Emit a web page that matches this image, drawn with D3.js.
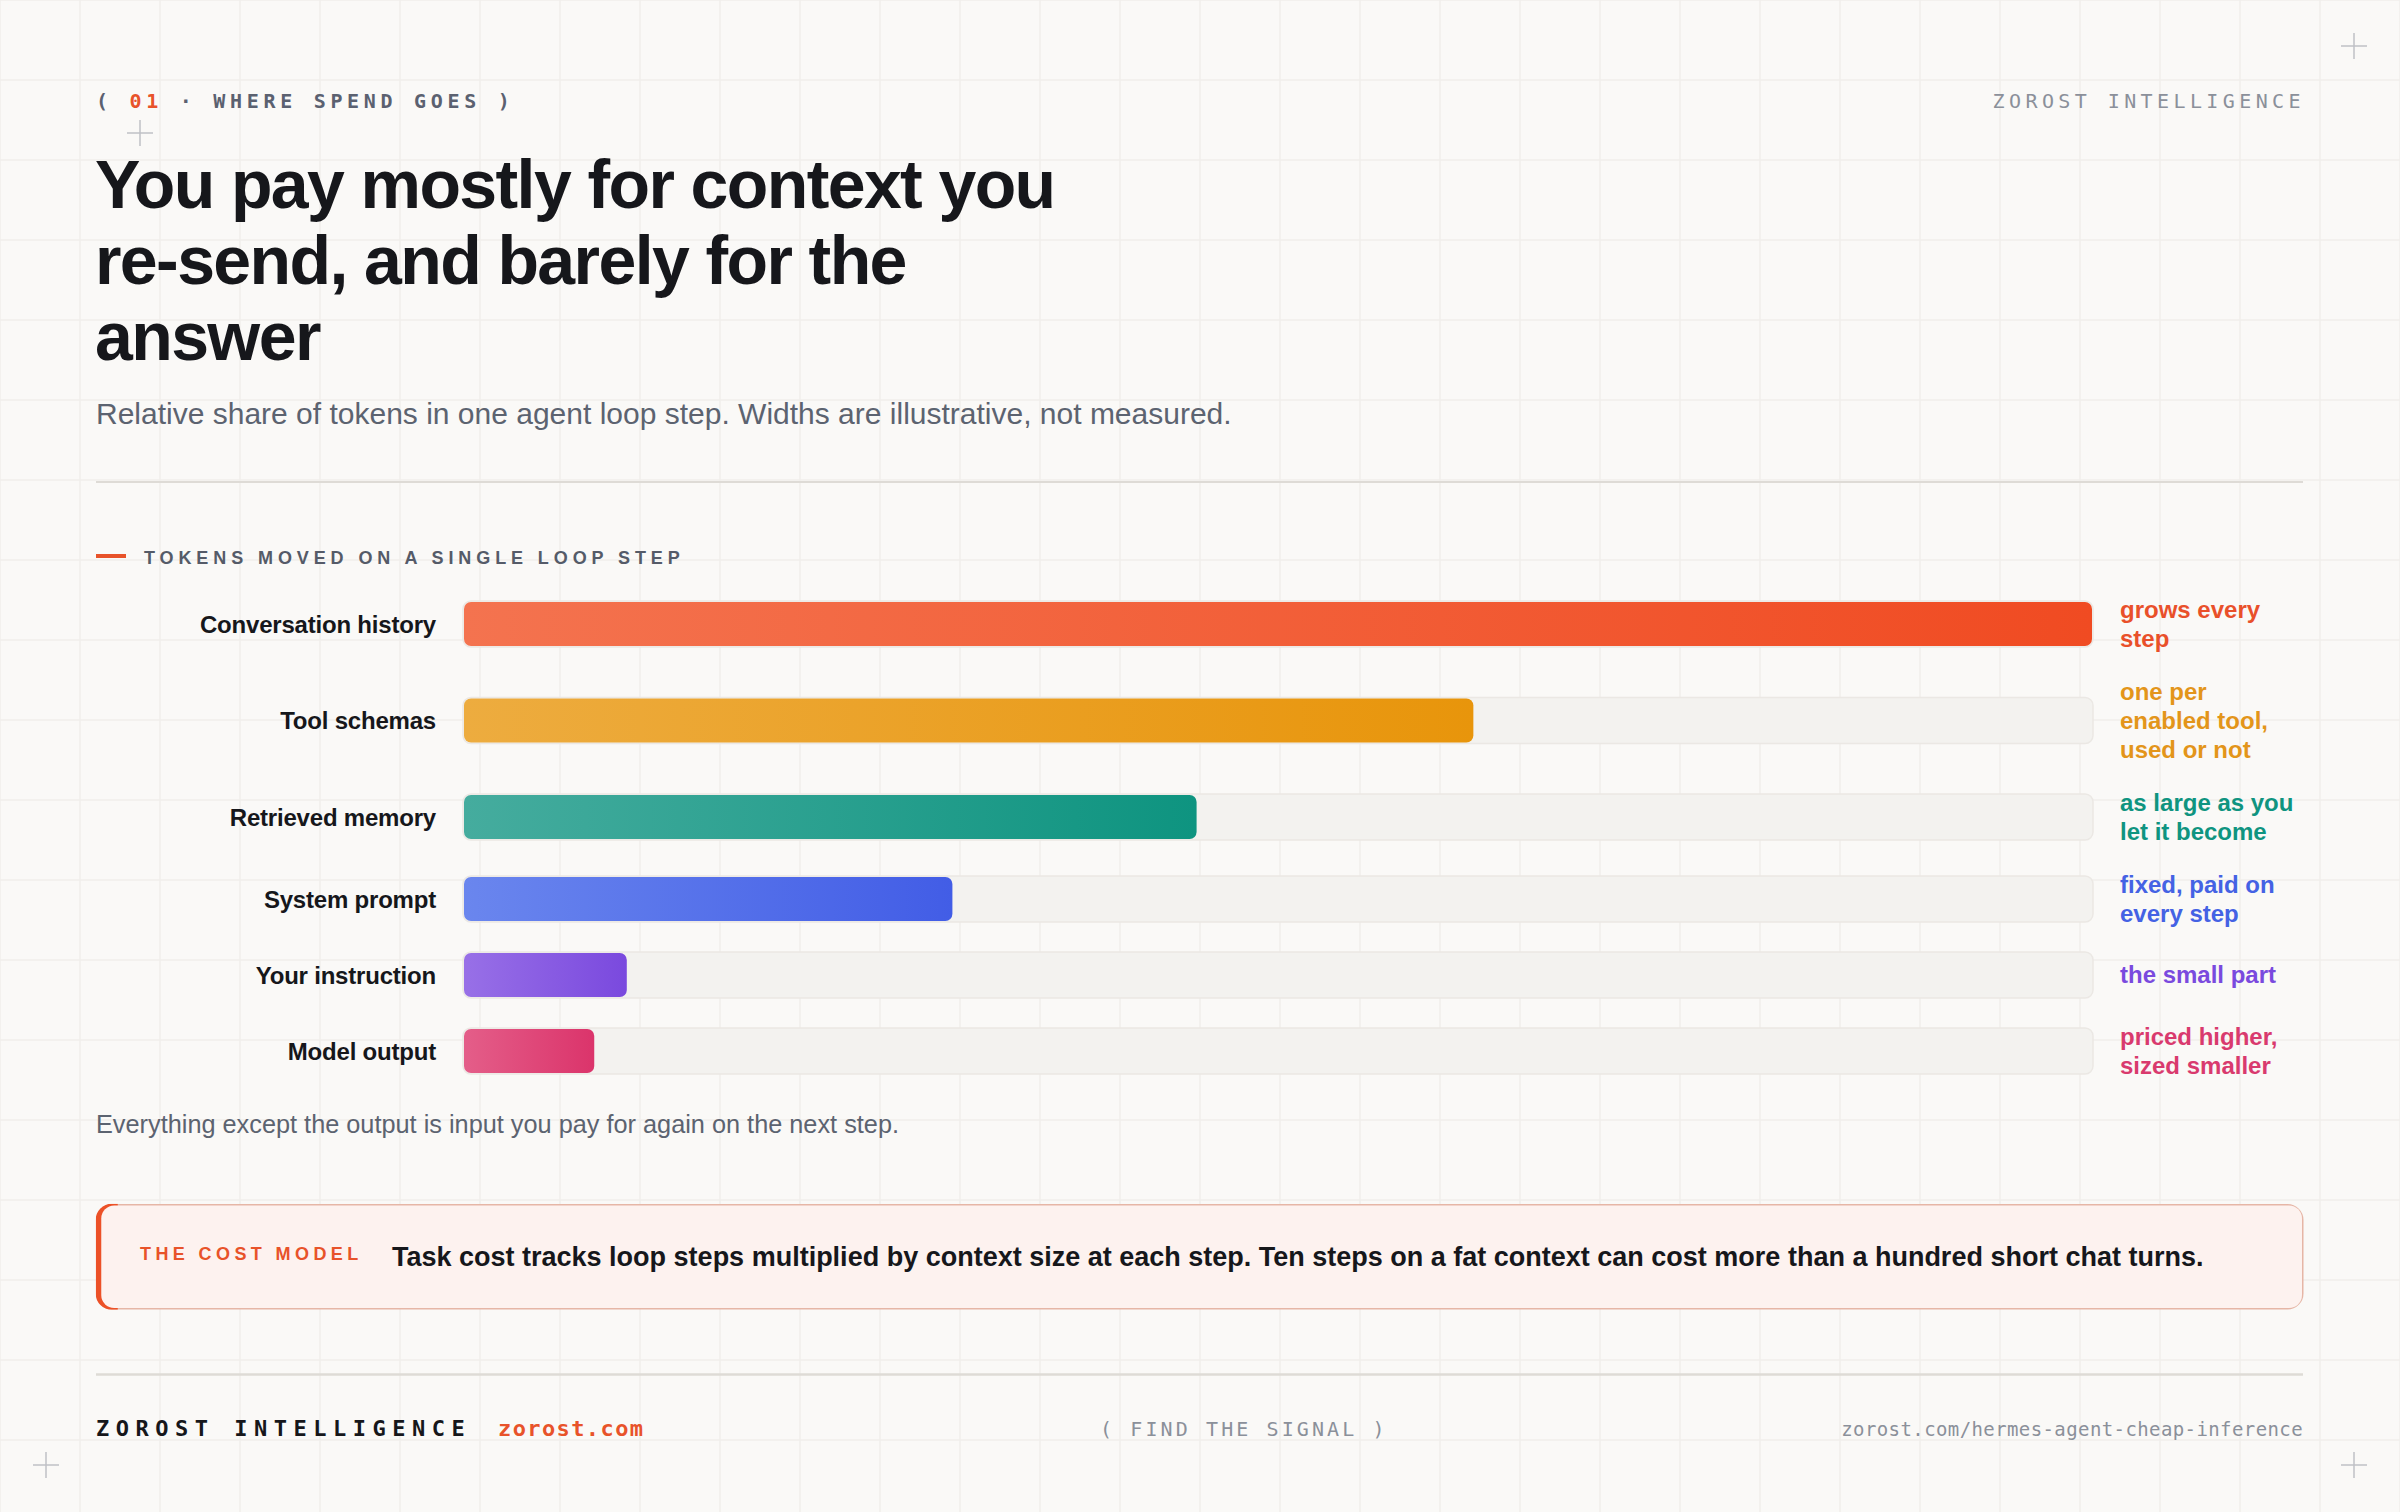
<!DOCTYPE html>
<html>
<head>
<meta charset="utf-8">
<script src="https://cdn.jsdelivr.net/npm/d3@7"></script>
<style>
  body { margin: 0; background: #faf9f7; }
  svg { display: block; }
  .sans { font-family: "Liberation Sans", Arial, Helvetica, sans-serif; }
  .mono { font-family: "DejaVu Sans Mono", monospace; }
</style>
</head>
<body>
<div id="chart"></div>
<script>
// data
const categories = ["Conversation history", "Tool schemas", "Retrieved memory", "System prompt", "Your instruction", "Model output"]
const shares = [100, 62, 45, 30, 10, 8]
const notes = [
    ["grows every", "step"],
    ["one per", "enabled tool,", "used or not"],
    ["as large as you", "let it become"],
    ["fixed, paid on", "every step"],
    ["the small part"],
    ["priced higher,", "sized smaller"]
]

// styles
const gradFrom = ["#f4734f", "#edac3f", "#45ac9e", "#6a86ee", "#9870e7", "#e45e89"]
const gradTo = ["#f04b22", "#e8950b", "#0e9480", "#425de6", "#7a49de", "#db346b"]
const noteColor = ["#e9502a", "#e3951a", "#0f9480", "#4462e4", "#7a4ade", "#d93a6e"]

const width = 2400
const height = 1512
const left = 96
const right = 2303
const accent = "#e8532a"

const svg = d3.select("#chart").append("svg").attr("width", width).attr("height", height)
const defs = svg.append("defs")

svg.append("rect").attr("width", width).attr("height", height).attr("fill", "#faf9f7")

// background grid
const gridGroup = svg.append("g").attr("stroke", "#f0eeeb").attr("stroke-width", 1.5)
gridGroup.selectAll("line.v").data(d3.range(0, width + 1, 80)).enter().append("line")
    .attr("x1", d => d).attr("x2", d => d).attr("y1", 0).attr("y2", height)
gridGroup.selectAll("line.h").data(d3.range(0, height + 1, 80)).enter().append("line")
    .attr("x1", 0).attr("x2", width).attr("y1", d => d).attr("y2", d => d)

// corner crosses
const crosses = [[2354, 46], [140, 133], [46, 1465], [2354, 1465]]
const crossGroup = svg.append("g").attr("stroke", "#bfc1c6").attr("stroke-width", 1.5)
crosses.forEach(([cx, cy]) => {
    crossGroup.append("line").attr("x1", cx - 13).attr("x2", cx + 13).attr("y1", cy).attr("y2", cy)
    crossGroup.append("line").attr("x1", cx).attr("x2", cx).attr("y1", cy - 13).attr("y2", cy + 13)
})

// header
const eyebrow = svg.append("text").attr("class", "mono").attr("x", left).attr("y", 108)
    .attr("font-size", 20).attr("font-weight", 700).attr("letter-spacing", 4.7).attr("fill", "#5b6170")
eyebrow.append("tspan").text("( ")
eyebrow.append("tspan").attr("fill", accent).text("01")
eyebrow.append("tspan").text(" · WHERE SPEND GOES )")

svg.append("text").attr("class", "mono").attr("x", right + 2).attr("y", 108).attr("text-anchor", "end")
    .attr("font-size", 20).attr("letter-spacing", 4.4).attr("fill", "#8b909a").text("ZOROST INTELLIGENCE")

const titleLines = ["You pay mostly for context you", "re-send, and barely for the", "answer"]
svg.append("g").selectAll("text").data(titleLines).enter().append("text")
    .attr("class", "sans").attr("x", left - 1).attr("y", (d, i) => 208 + i * 76)
    .attr("font-size", 68).attr("font-weight", 700).attr("letter-spacing", -1.6).attr("fill", "#16171b")
    .text(d => d)

svg.append("text").attr("class", "sans").attr("x", left).attr("y", 424)
    .attr("font-size", 30).attr("fill", "#5c6370")
    .text("Relative share of tokens in one agent loop step. Widths are illustrative, not measured.")

svg.append("line").attr("x1", left).attr("x2", right).attr("y1", 482).attr("y2", 482)
    .attr("stroke", "#dedbd6").attr("stroke-width", 2)

// section label
svg.append("line").attr("x1", left).attr("x2", left + 30).attr("y1", 556).attr("y2", 556)
    .attr("stroke", accent).attr("stroke-width", 4)
svg.append("text").attr("class", "sans").attr("x", 144).attr("y", 564)
    .attr("font-size", 18).attr("font-weight", 700).attr("letter-spacing", 4.9).attr("fill", "#555b68")
    .text("TOKENS MOVED ON A SINGLE LOOP STEP")

// bars
const x = d3.scaleLinear().domain([0, 100]).range([464, 2092])
const lineH = 29
const rowGap = 24
const barH = 44
const rows = []
let rowTop = 595
categories.forEach((c, i) => {
    const h = Math.max(barH + 2, notes[i].length * lineH)
    rows.push(rowTop + h / 2)
    rowTop += h + rowGap
})

categories.forEach((c, i) => {
    const g = defs.append("linearGradient").attr("id", "grad" + i)
    g.append("stop").attr("offset", "0%").attr("stop-color", gradFrom[i])
    g.append("stop").attr("offset", "100%").attr("stop-color", gradTo[i])
})

const rowGroup = svg.append("g")
const row = rowGroup.selectAll("g").data(categories).enter().append("g")
    .attr("transform", (d, i) => `translate(0, ${rows[i]})`)

row.append("text").attr("class", "sans").attr("x", 436).attr("y", 8.5).attr("text-anchor", "end")
    .attr("font-size", 24).attr("font-weight", 700).attr("letter-spacing", -0.2).attr("fill", "#16171b").text(d => d)

row.append("rect").attr("x", x(0) - 1).attr("y", -barH / 2 - 1)
    .attr("width", x(100) - x(0) + 2).attr("height", barH + 2).attr("rx", 8)
    .attr("fill", "#f3f2ef").attr("stroke", "#ebe8e4").attr("stroke-width", 1.5)

row.append("rect").attr("x", x(0)).attr("y", -barH / 2)
    .attr("width", (d, i) => x(shares[i]) - x(0)).attr("height", barH).attr("rx", 7)
    .attr("fill", (d, i) => `url(#grad${i})`)

row.each(function (d, i) {
    const t = d3.select(this).append("text").attr("class", "sans")
        .attr("font-size", 24).attr("font-weight", 700).attr("fill", noteColor[i])
    notes[i].forEach((line, j) => {
        t.append("tspan").attr("x", 2120)
            .attr("y", -(notes[i].length - 1) * lineH / 2 + j * lineH + 8).text(line)
    })
})

svg.append("text").attr("class", "sans").attr("x", left).attr("y", 1133)
    .attr("font-size", 25.3).attr("fill", "#5c6370")
    .text("Everything except the output is input you pay for again on the next step.")

// callout
const box = { x: 96.75, y: 1204.75, w: 2206, h: 104, r: 16 }
defs.append("clipPath").attr("id", "boxClip").append("rect")
    .attr("x", box.x - 1).attr("y", box.y - 1).attr("width", box.w + 2).attr("height", box.h + 2).attr("rx", box.r)
svg.append("rect").attr("x", box.x - 0.75).attr("y", box.y - 0.75).attr("width", box.w + 1.5).attr("height", box.h + 1.5)
    .attr("rx", box.r).attr("fill", "#e6b6a6")
svg.append("rect").attr("clip-path", "url(#boxClip)").attr("x", box.x - 1).attr("y", box.y - 1)
    .attr("width", 22).attr("height", box.h + 2).attr("fill", "#ec5127")
svg.append("rect").attr("x", box.x + 4.5).attr("y", box.y + 0.75).attr("width", box.w - 5.25).attr("height", box.h - 1.5)
    .attr("rx", 13).attr("fill", "#fdf2ef")

svg.append("text").attr("class", "sans").attr("x", 140).attr("y", 1260)
    .attr("font-size", 18).attr("font-weight", 700).attr("letter-spacing", 4.4).attr("fill", accent)
    .text("THE COST MODEL")
svg.append("text").attr("class", "sans").attr("x", 392).attr("y", 1266)
    .attr("font-size", 27).attr("font-weight", 700).attr("fill", "#16171b")
    .text("Task cost tracks loop steps multiplied by context size at each step. Ten steps on a fat context can cost more than a hundred short chat turns.")

// footer
svg.append("line").attr("x1", left).attr("x2", right).attr("y1", 1374.5).attr("y2", 1374.5)
    .attr("stroke", "#dedbd6").attr("stroke-width", 2.5)

svg.append("text").attr("class", "mono").attr("x", left).attr("y", 1436)
    .attr("font-size", 22).attr("font-weight", 700).attr("letter-spacing", 6.5).attr("fill", "#16171b")
    .text("ZOROST INTELLIGENCE")
svg.append("text").attr("class", "mono").attr("x", 498).attr("y", 1436)
    .attr("font-size", 22).attr("font-weight", 700).attr("letter-spacing", 1.4).attr("fill", accent)
    .text("zorost.com")
svg.append("text").attr("class", "mono").attr("x", 1100).attr("y", 1436)
    .attr("font-size", 20).attr("letter-spacing", 3.1).attr("fill", "#8b909a")
    .text("( FIND THE SIGNAL )")
svg.append("text").attr("class", "mono").attr("x", right).attr("y", 1436).attr("text-anchor", "end")
    .attr("font-size", 19).attr("letter-spacing", 0.4).attr("fill", "#8b909a")
    .text("zorost.com/hermes-agent-cheap-inference")
</script>
</body>
</html>
